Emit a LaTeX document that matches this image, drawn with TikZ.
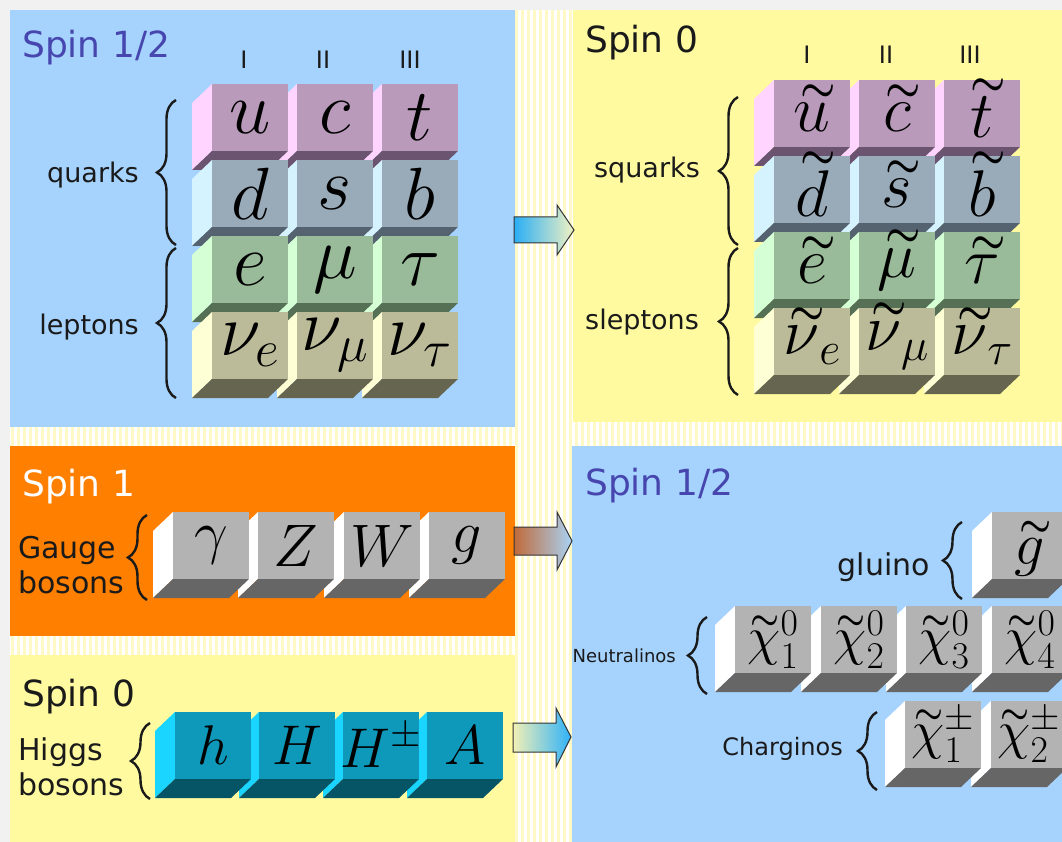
\RequirePackage{fix-cm}
\documentclass[tikz,border=0pt]{standalone}
\usepackage{exscale}
\usepackage{graphicx}
\usepackage{fontspec}
\setmainfont{DejaVu Sans}
\usetikzlibrary{decorations.pathreplacing}
\definecolor{outerbg}{HTML}{F1F1F1}
\definecolor{stripec}{HTML}{FFF9C8}
\definecolor{pblue}{HTML}{A6D3FE}
\definecolor{pyellow}{HTML}{FFFAA0}
\definecolor{porange}{HTML}{FF7F00}
\definecolor{spinblue}{HTML}{4646AE}
\definecolor{labc}{HTML}{1A1A1A}
\definecolor{uF}{HTML}{B99ABB}\definecolor{uL}{HTML}{FFD5FF}\definecolor{uB}{HTML}{6B5470}
\definecolor{dF}{HTML}{99AAB9}\definecolor{dL}{HTML}{D5F2FF}\definecolor{dB}{HTML}{556270}
\definecolor{eF}{HTML}{99BB99}\definecolor{eL}{HTML}{D5FFD5}\definecolor{eB}{HTML}{557055}
\definecolor{nF}{HTML}{BBBB99}\definecolor{nL}{HTML}{FFFFD5}\definecolor{nB}{HTML}{666650}
\definecolor{gF}{HTML}{B3B3B3}\definecolor{gL}{HTML}{FFFFFF}\definecolor{gB}{HTML}{666666}
\definecolor{hF}{HTML}{0E99BB}\definecolor{hL}{HTML}{19D5FF}\definecolor{hB}{HTML}{055566}
\definecolor{arrline}{HTML}{333333}
\definecolor{a1l}{HTML}{2AAEF5}\definecolor{a1r}{HTML}{F2F2C2}
\definecolor{a2l}{HTML}{C06A3A}\definecolor{a2r}{HTML}{A9D3F5}
\definecolor{a3l}{HTML}{F2F0B5}\definecolor{a3r}{HTML}{2EB2FA}
\def\symsize{72}
\def\symdy{0}
\def\tilkern{0.18em}
\newlength\tilh
\newlength\tilw
\newcommand\tildeglyph{\scalebox{0.6}[0.65]{\boldmath$\sim$}}
\newcommand\stil[1]{\mbox{\settoheight{\tilh}{$#1$}\settowidth{\tilw}{$#1$}$#1$\hspace{-\tilw}\makebox[\tilw][c]{\kern\tilkern\smash{\raisebox{\dimexpr\tilh+0.03em\relax}{\tildeglyph}}}}}
\newcommand\partcube[7]{%
  \fill[#5] (#2,#3) -- (#2,#3+67) -- (#2-20,#3+86) -- (#2-20,#3+19) -- cycle;
  \fill[#6] (#2,#3+67) -- (#2+76,#3+67) -- (#2+56,#3+86) -- (#2-20,#3+86) -- cycle;
  \fill[#4] (#2,#3) rectangle (#2+76,#3+67);
  \node[sym] (#1) at (#2+38,#3+33.5+\symdy) {#7};}
\begin{document}
\begin{tikzpicture}[x=1pt,y=-1pt,
  sym/.style={inner sep=0pt, font=\fontsize{\symsize}{\symsize}\selectfont},
  spin/.style={inner sep=0pt, anchor=base west, font=\fontsize{36}{40}\selectfont},
  lab/.style={inner sep=0pt, text=labc},
  gen/.style={inner sep=0pt, text=labc, font=\fontsize{24}{28}\selectfont},
  pbrace/.style={decorate, decoration={brace, amplitude=19pt}, line width=2.4pt, labc},
  blockarrow/.style={draw=arrline, line width=1pt}]
\useasboundingbox (0,0) rectangle (1062,842);
\fill[outerbg] (0,0) rectangle (1062,842);
\fill[white] (10,10) rectangle (1062,842);
\foreach \i in {0,...,175} \draw[stripec, line width=3pt] (12+6*\i,10) -- (12+6*\i,842);
% panels
\fill[pblue] (10,10) rectangle (515,427);
\fill[pyellow] (573,10) rectangle (1062,422);
\fill[porange] (10,446) rectangle (515,636);
\fill[pyellow] (10,655) rectangle (515,842);
\fill[pblue] (572,446) rectangle (1062,842);
% arrows
\shadedraw[blockarrow, left color=a1l, right color=a1r] (514,217) -- (557,217) -- (557,205) -- (574,230) -- (557,255) -- (557,243) -- (514,243) -- cycle;
\shadedraw[blockarrow, left color=a2l, right color=a2r] (514,527) -- (557,527) -- (557,512) -- (572,541) -- (557,570) -- (557,555) -- (514,555) -- cycle;
\shadedraw[blockarrow, left color=a3l, right color=a3r] (513,723) -- (556,723) -- (556,708) -- (571,737) -- (556,767) -- (556,752) -- (513,752) -- cycle;
% spin titles
\node[spin, text=spinblue] (s1) at (22,58) {Spin 1/2};
\node[spin, text=labc] (s2) at (585,53) {Spin 0};
\node[spin, text=white] (s3) at (22,496) {Spin 1};
\node[spin, text=labc] (s4) at (22,706) {Spin 0};
\node[spin, text=spinblue] (s5) at (585,495) {Spin 1/2};
% generations
\node[gen] (g1) at (244,60) {I};
\node[gen] (g2) at (323,60) {II};
\node[gen] (g3) at (410,60) {III};
\node[gen] (h1) at (807,55) {I};
\node[gen] (h2) at (886,55) {II};
\node[gen] (h3) at (970,55) {III};
% top-left grid
\def\symsize{74}
\partcube{t}{382}{84}{uF}{uL}{uB}{$t$}
\partcube{c}{297}{84}{uF}{uL}{uB}{$c$}
\partcube{u}{212}{84}{uF}{uL}{uB}{$u$}
\partcube{b}{382}{160}{dF}{dL}{dB}{$b$}
\partcube{s}{297}{160}{dF}{dL}{dB}{$s$}
\partcube{d}{212}{160}{dF}{dL}{dB}{$d$}
\partcube{tau}{382}{236}{eF}{eL}{eB}{$\tau$}
\partcube{mu}{297}{236}{eF}{eL}{eB}{$\mu$}
\partcube{e}{212}{236}{eF}{eL}{eB}{$e$}
\partcube{nt}{382}{312}{nF}{nL}{nB}{$\nu_\tau$}
\partcube{nm}{297}{312}{nF}{nL}{nB}{$\nu_\mu$}
\partcube{ne}{212}{312}{nF}{nL}{nB}{$\nu_e$}
% top-right grid
\def\symsize{66}\def\symdy{4}
\partcube{st}{944}{80}{uF}{uL}{uB}{$\stil{t}$}
\partcube{sc}{859}{80}{uF}{uL}{uB}{$\stil{c}$}
\partcube{su}{774}{80}{uF}{uL}{uB}{$\stil{u}$}
\partcube{sb}{944}{156}{dF}{dL}{dB}{$\stil{b}$}
\partcube{ss}{859}{156}{dF}{dL}{dB}{$\stil{s}$}
\partcube{sd}{774}{156}{dF}{dL}{dB}{$\stil{d}$}
\partcube{stau}{944}{232}{eF}{eL}{eB}{$\stil{\tau}$}
\partcube{smu}{859}{232}{eF}{eL}{eB}{$\stil{\mu}$}
\partcube{se}{774}{232}{eF}{eL}{eB}{$\stil{e}$}
\partcube{snt}{944}{308}{nF}{nL}{nB}{$\stil{\nu}_\tau$}
\partcube{snm}{859}{308}{nF}{nL}{nB}{$\stil{\nu}_\mu$}
\partcube{sne}{774}{308}{nF}{nL}{nB}{$\stil{\nu}_e$}
% gauge
\def\symsize{60}\def\symdy{0}
\partcube{gl}{429}{512}{gF}{gL}{gB}{$g$}
\partcube{W}{344}{512}{gF}{gL}{gB}{$W$}
\partcube{Z}{258}{512}{gF}{gL}{gB}{$Z$}
\partcube{gam}{173}{512}{gF}{gL}{gB}{$\gamma$}
% higgs
\def\symsize{56}
\partcube{A}{427}{712}{hF}{hL}{hB}{$A$}
\partcube{Hpm}{343}{712}{hF}{hL}{hB}{$H^\pm$}
\partcube{H}{259}{712}{hF}{hL}{hB}{$H$}
\partcube{h}{175}{712}{hF}{hL}{hB}{$h$}
% gluino
\def\symsize{60}\def\symdy{12}
\partcube{sg}{992}{512}{gF}{gL}{gB}{$\stil{g}$}
% neutralinos
\def\symsize{54}\def\symdy{0}\def\tilkern{0.04em}
\partcube{n4}{992}{606}{gF}{gL}{gB}{$\stil{\chi}^0_4$}
\partcube{n3}{906}{606}{gF}{gL}{gB}{$\stil{\chi}^0_3$}
\partcube{n2}{821}{606}{gF}{gL}{gB}{$\stil{\chi}^0_2$}
\partcube{n1}{735}{606}{gF}{gL}{gB}{$\stil{\chi}^0_1$}
% charginos
\partcube{c2}{991}{701}{gF}{gL}{gB}{$\stil{\chi}^\pm_2$}
\partcube{c1}{905}{701}{gF}{gL}{gB}{$\stil{\chi}^\pm_1$}
% braces
\draw[pbrace] (176,245) -- (176,100);
\draw[pbrace] (176,398) -- (176,248);
\draw[pbrace] (738,245) -- (738,97);
\draw[pbrace] (738,395) -- (738,248);
\draw[pbrace] (147,600) -- (147,515);
\draw[pbrace] (150,799) -- (150,723);
\draw[pbrace] (962,599) -- (962,522);
\draw[pbrace] (707,694) -- (707,617);
\draw[pbrace] (877,790) -- (877,712);
% labels
\node[lab, anchor=east, font=\fontsize{27}{32}\selectfont] (quarks) at (139,175) {quarks};
\node[lab, anchor=east, font=\fontsize{27}{32}\selectfont] (leptons) at (139,327) {leptons};
\node[lab, anchor=east, font=\fontsize{27}{32}\selectfont] (squarks) at (700,170) {squarks};
\node[lab, anchor=east, font=\fontsize{27}{32}\selectfont] (sleptons) at (699,322) {sleptons};
\node[lab, anchor=west, align=left, font=\fontsize{30}{35}\selectfont] (gauge) at (18,565) {Gauge\\bosons};
\node[lab, anchor=west, align=left, font=\fontsize{30}{35}\selectfont] (higgs) at (18,767) {Higgs\\bosons};
\node[lab, anchor=east, font=\fontsize{30}{35}\selectfont] (gluino) at (930,567) {gluino};
\node[lab, anchor=east, font=\fontsize{18}{22}\selectfont] (neutr) at (676,656) {Neutralinos};
\node[lab, anchor=east, font=\fontsize{24}{28}\selectfont] (charg) at (843,749) {Charginos};
\end{tikzpicture}
\end{document}
